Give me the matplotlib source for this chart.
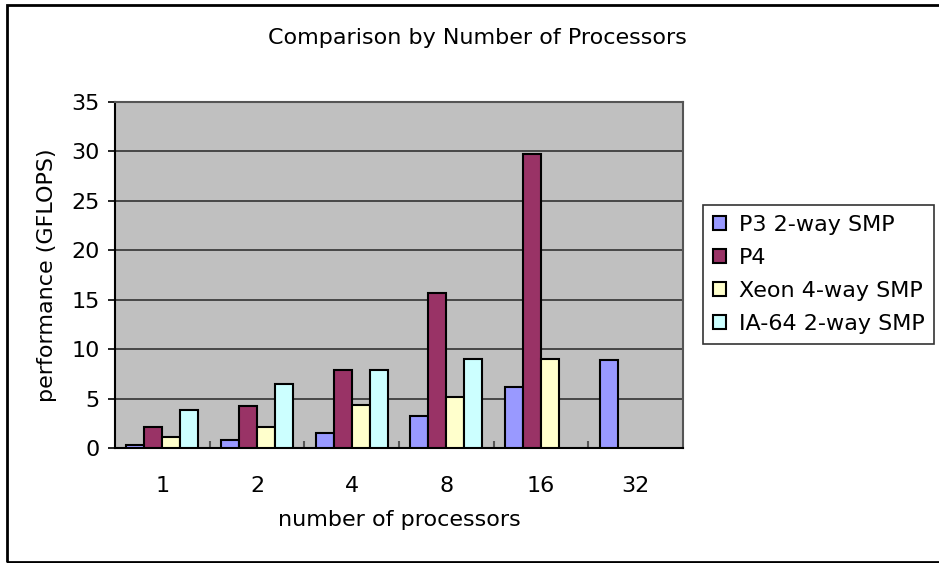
import numpy as np
import matplotlib.pyplot as plt
from matplotlib.patches import Rectangle

plt.rcParams['font.family'] = ['DejaVu Sans']

# processor count vs performance (GFLOPS)
procs = ['1', '2', '4', '8', '16', '32']
p3_2way = [0.35, 0.8, 1.55, 3.2, 6.2, 8.85]
p4 = [2.15, 4.25, 7.85, 15.7, 29.7, 0]
xeon_4way = [1.15, 2.15, 4.35, 5.2, 9.05, 0]
ia64_2way = [3.8, 6.45, 7.85, 9.05, 0, 0]

series = [p3_2way, p4, xeon_4way, ia64_2way]
names = ['P3 2-way SMP', 'P4', 'Xeon 4-way SMP', 'IA-64 2-way SMP']
colors = ['#9999ff', '#993366', '#ffffcc', '#ccffff']
fs = 16

fig = plt.figure(figsize=(9.39, 5.63), dpi=100)
ax = fig.add_axes([0.1225, 0.2043, 0.6049, 0.6145])
ax.set_facecolor('#c0c0c0')

x = np.arange(len(procs))
w = 0.19
for i, (vals, c, n) in enumerate(zip(series, colors, names)):
    vals = np.array(vals)
    mask = vals > 0
    ax.bar(x[mask] + (i - 1.5) * w, vals[mask], width=w, color=c,
           edgecolor='black', linewidth=1.5, label=n, zorder=3)

ax.set_xlim(-0.5, len(procs) - 0.5)
ax.set_ylim(0, 35)
ax.set_yticks(np.arange(0, 36, 5))
ax.yaxis.grid(True, color='#333333', linewidth=1.2, zorder=1)
ax.set_axisbelow(True)

ax.set_xticks(x)
ax.set_xticklabels(procs, fontsize=fs)
ax.tick_params(axis='x', length=0, pad=20)
ax.set_xticks(np.arange(0.5, len(procs) - 0.5, 1), minor=True)
ax.tick_params(axis='x', which='minor', direction='in', length=5, color='#555555', width=1.5)
ax.tick_params(axis='y', labelsize=fs, length=5, width=1.2, direction='out', pad=6)

for s in ['left', 'bottom']:
    ax.spines[s].set_color('black')
    ax.spines[s].set_linewidth(1.5)
for s in ['top', 'right']:
    ax.spines[s].set_color('#555555')
    ax.spines[s].set_linewidth(1.5)

ax.set_xlabel('number of processors', fontsize=fs, labelpad=10)
ax.set_ylabel('performance (GFLOPS)', fontsize=fs, labelpad=10)
fig.text(0.508, 0.933, 'Comparison by Number of Processors', fontsize=fs,
         ha='center', va='center')

leg = ax.legend(loc='upper left', bbox_to_anchor=(703 / 939, 1 - 205 / 563),
                bbox_transform=fig.transFigure, fontsize=fs, frameon=True,
                fancybox=False, edgecolor='black', handlelength=0.6,
                handleheight=0.6, handletextpad=0.55, borderpad=0.45,
                labelspacing=0.58, borderaxespad=0)
leg.get_frame().set_linewidth(1.2)

# outer chart border
fig.patches.append(Rectangle((7 / 939, 1 - 562 / 563), 1.2, 557 / 563,
                             transform=fig.transFigure, fill=False,
                             edgecolor='black', linewidth=2))

fig.savefig('out.png', dpi=100)
